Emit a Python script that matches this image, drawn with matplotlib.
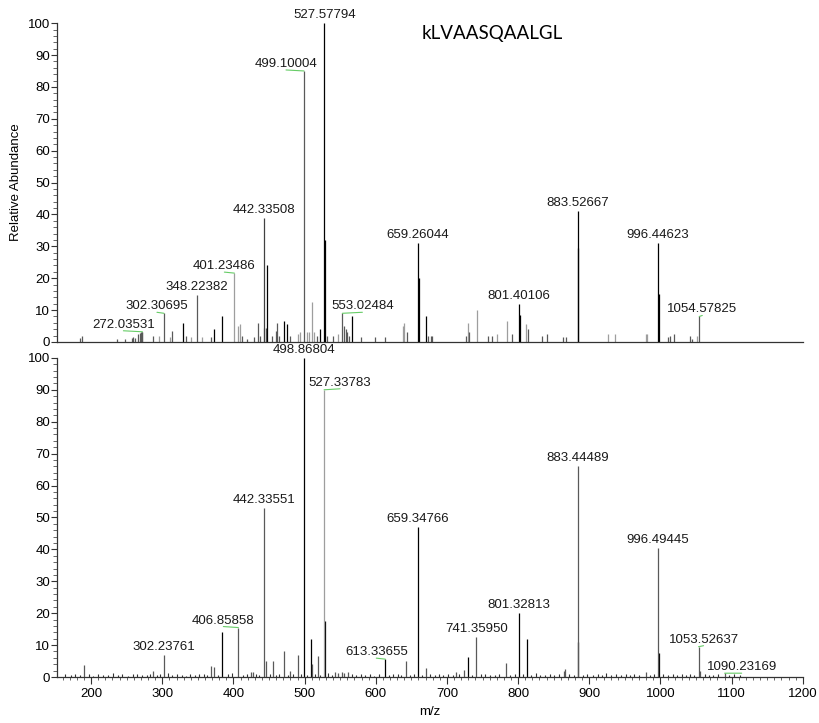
import matplotlib
matplotlib.use("Agg")
from matplotlib import pyplot as plt
from matplotlib.ticker import MultipleLocator
import numpy as np

plt.rcParams['font.family'] = ['Liberation Sans', 'DejaVu Sans']

## top spectrum: annotated peaks
top_labels = ['527.57794', '499.10004', '442.33508', '401.23486', '348.22382', '302.30695',
              '272.03531', '553.02484', '659.26044', '801.40106', '883.52667', '996.44623',
              '1054.57825']
top_label_h = [100, 85, 39, 21.6, 14.7, 9, 3.2, 9, 31, 12, 41, 31, 8]

# unlabelled peaks of the top spectrum
top_mz = [184.5, 186.5, 236.5, 248, 257, 259, 262, 266, 268, 270, 272, 287, 296, 311, 313, 329,
          333, 340, 356, 368, 373, 384, 406, 409, 412, 419, 429, 434, 437, 443.5, 445.5, 447,
          454, 460, 461.5, 464, 471, 475, 479, 491, 494, 503, 506, 510, 513, 518, 522, 528.3,
          531, 540, 547, 556, 558, 560, 562, 566, 579, 599, 613, 638, 640, 644, 660.2, 671, 674,
          677, 679, 727, 729, 731, 742, 757, 763, 770, 784, 791, 802.2, 811, 814, 833, 840, 863,
          867, 884.5, 926, 936, 979, 981, 997.4, 1010, 1013, 1019, 1041, 1045, 1051]
top_h = [1.2, 2, 1, 1, 1.2, 1.5, 1.2, 2.5, 2.8, 3, 3, 2, 2, 1.5, 3.5, 6,
         2, 1.5, 1.5, 1.5, 4, 8, 5, 5.5, 2, 1, 1.5, 6, 2, 4.5, 4.5, 24,
         2, 3.5, 6, 2, 6.5, 5.5, 2, 2.5, 3, 3, 3, 12.5, 3, 2, 4, 32,
         2, 2, 2.5, 5, 4, 3, 2, 8, 1.5, 1.5, 1.5, 5, 6, 3, 20, 8, 2,
         2, 2, 2, 6, 3, 10, 2, 2, 2.5, 6.5, 2.5, 8.5, 5.5, 4, 2, 2.5, 1.5,
         1.5, 29.5, 2.5, 2.5, 2.5, 2.5, 15, 1.5, 2, 2.5, 2, 1, 2]
top_black = [329, 373, 384, 447, 471, 475, 522, 528.3, 566, 660.2, 671, 802.2, 884.5, 997.4]
top_light = [296, 311, 340, 356, 406, 409, 443.5, 491, 494, 503, 506, 510, 513, 547, 553, 638,
             640, 729, 742, 770, 784, 811, 926, 936, 979, 981, 1051]

## bottom spectrum: annotated peaks
bot_labels = ['498.86804', '527.33783', '442.33551', '406.85858', '302.23761', '613.33655',
              '659.34766', '741.35950', '801.32813', '883.44489', '996.49445', '1053.52637',
              '1090.23169']
bot_label_h = [100, 90, 53, 15.5, 7, 5.6, 47, 12.5, 20, 66, 40.4, 9.5, 1.2]

bot_mz = [190, 287, 368.5, 373, 384, 424, 428, 445.5, 455, 471, 479.5, 490.5, 509, 510.5,
          518.5, 528.2, 543, 547, 552, 556, 561, 642, 670.5, 712.6, 723.6, 729, 782.8, 812,
          864, 866, 884.4, 979.5, 997.5, 1055]
bot_h = [3.8, 2, 3.5, 3, 14, 1.5, 1.5, 5, 5, 8, 2, 7, 12, 4,
         6.5, 17.5, 1.5, 1.2, 1.5, 1.3, 1.5, 5, 2.8, 1.5, 2.2, 6.3, 4.4, 12,
         2, 2.5, 11, 1.5, 7.5, 2]
bot_black = [384, 509, 528.2, 729, 812, 884.4, 997.5]

# baseline noise of the bottom spectrum
noise_mz = [163, 171, 178, 184, 197, 203, 209, 216, 224, 231,
            238, 244, 252, 259, 265, 271, 278, 283, 292, 297,
            308, 314, 321, 327, 333, 339, 346, 352, 358, 363,
            378, 392, 398, 413, 419, 432, 436, 451, 460, 464,
            476, 484, 495, 504, 515, 522, 533, 538, 566, 572,
            579, 585, 592, 598, 604, 619, 624, 631, 636, 648,
            654, 665, 676, 683, 689, 695, 702, 708, 717, 735,
            748, 754, 760, 767, 773, 789, 795, 807, 818, 825,
            831, 838, 845, 851, 857, 872, 878, 891, 897, 905,
            912, 918, 924, 931, 938, 944, 951, 957, 963, 970,
            986, 991, 1004, 1010, 1017, 1023, 1030, 1036, 1042, 1047,
            1062, 1068, 1074, 1081, 1097, 1104, 1112]
noise_h = [0.8, 0.5, 1.1, 0.6, 0.9, 0.4, 1.0, 0.7, 0.5, 1.2,
           0.6, 0.8, 0.4, 0.9, 1.1, 0.5, 0.7, 1.0, 0.6, 0.8,
           1.2, 0.5, 0.9, 0.7, 0.4, 1.0, 0.6, 0.8, 1.1, 0.5,
           0.7, 0.9, 1.3, 0.6, 0.8, 1.0, 0.5, 0.9, 0.7, 1.1,
           0.6, 0.8, 1.0, 0.5, 0.9, 0.7, 1.2, 0.6, 0.8, 0.5,
           1.0, 0.7, 0.9, 0.4, 1.1, 0.6, 0.8, 1.0, 0.5, 0.7,
           0.9, 0.6, 1.1, 0.5, 0.8, 0.7, 1.0, 0.6, 0.9, 0.5,
           0.8, 1.1, 0.6, 0.7, 0.9, 0.5, 1.0, 0.8, 0.6, 1.2,
           0.7, 0.5, 0.9, 0.6, 1.0, 0.8, 0.5, 0.7, 1.1, 0.6,
           0.9, 0.5, 1.2, 0.7, 0.8, 0.6, 1.0, 0.5, 0.9, 0.7,
           0.6, 1.0, 0.8, 0.5, 0.9, 0.7, 1.1, 0.6, 0.8, 0.5,
           0.9, 0.7, 0.6, 1.0, 0.5, 0.8, 0.6]

# label offsets (pixels) from the peak top
top_off = [(0, 2), (-18, 1), (0, 2), (-10, 1), (0, 2), (-7, 1), (-19, 1), (20, 1), (0, 2),
           (0, 2), (0, 2), (0, 2), (3, 1)]
bot_off = [(0, 2), (16, 1), (0, 2), (-15, 1), (0, 2), (-9, 1), (0, 2), (0, 2), (0, 2),
           (0, 2), (0, 2), (5, 1), (17, 0)]

MID = '0.35'
LIGHT = '0.62'
GREEN = '#66cc66'


def shade(m, black, light):
    if any(abs(m - b) < 0.05 for b in black):
        return 'black'
    if any(abs(m - l) < 0.05 for l in light):
        return LIGHT
    return MID


def style_axes(ax, xlabels):
    ax.set_xlim(152, 1200)
    ax.set_ylim(0, 100)
    ax.spines['top'].set_visible(False)
    ax.spines['right'].set_visible(False)
    for s in ['left', 'bottom']:
        ax.spines[s].set_color('0.2')
        ax.spines[s].set_linewidth(0.9)
    ax.yaxis.set_major_locator(MultipleLocator(10))
    ax.yaxis.set_minor_locator(MultipleLocator(2))
    ax.tick_params(axis='y', which='major', length=4, width=0.8, labelsize=9.5,
                   color='0.2', pad=1)
    ax.tick_params(axis='y', which='minor', length=3, width=0.6, color='0.3')
    if xlabels:
        ax.xaxis.set_minor_locator(MultipleLocator(10))
        ax.tick_params(axis='x', which='major', length=5, width=0.8, labelsize=9.5,
                       color='0.2', pad=3)
        ax.tick_params(axis='x', which='minor', length=2.5, width=0.6, color='0.3')
        ax.set_xticks(np.arange(200, 1201, 100))
    else:
        ax.set_xticks([])
        ax.set_xticks([], minor=True)


def annotate(ax, labels, heights, offs):
    for lab, h, (dx, dy) in zip(labels, heights, offs):
        m = float(lab)
        arrow = None
        if dx != 0:
            arrow = dict(arrowstyle='-', color=GREEN, lw=0.8,
                         shrinkA=0, shrinkB=0, relpos=(0.5, 0.0))
        ax.annotate(lab, xy=(m, h), xytext=(dx, dy), textcoords='offset pixels',
                    ha='center', va='bottom', fontsize=9.5, color='0.1',
                    annotation_clip=False, arrowprops=arrow)


fig = plt.figure(figsize=(8.2, 7.23), dpi=100)
ax1 = fig.add_axes([0.0695, 0.527, 0.9095, 0.441])
ax2 = fig.add_axes([0.0695, 0.0636, 0.9095, 0.4414])

# top spectrum
cols = [shade(m, top_black, top_light) for m in top_mz]
ax1.vlines(top_mz, 0, top_h, colors=cols, lw=0.9)
lab_mz = [float(s) for s in top_labels]
lab_cols = ['black', MID, '0.25', LIGHT, MID, MID, MID, MID,
            'black', 'black', 'black', 'black', MID]
ax1.vlines(lab_mz, 0, top_label_h, colors=lab_cols, lw=0.9)
annotate(ax1, top_labels, top_label_h, top_off)
style_axes(ax1, False)
ax1.set_ylabel('Relative Abundance', fontsize=9.5, labelpad=4)
fig.text(0.6, 0.954, 'kLVAASQAALGL', ha='center', va='center',
         fontsize=13.5, family='Lato', color='black')

# bottom spectrum
ax2.vlines(noise_mz, 0, noise_h, colors='0.2', lw=0.8)
cols = [shade(m, bot_black, []) for m in bot_mz]
ax2.vlines(bot_mz, 0, bot_h, colors=cols, lw=0.9)
lab_mz = [float(s) for s in bot_labels]
lab_cols = ['black', LIGHT, MID, MID, MID, 'black', 'black', MID, 'black', MID, MID, MID, MID]
ax2.vlines(lab_mz, 0, bot_label_h, colors=lab_cols, lw=0.9)
annotate(ax2, bot_labels, bot_label_h, bot_off)
style_axes(ax2, True)
ax2.set_xlabel('m/z', fontsize=9.5, labelpad=4)

fig.savefig('out.png', dpi=100)
